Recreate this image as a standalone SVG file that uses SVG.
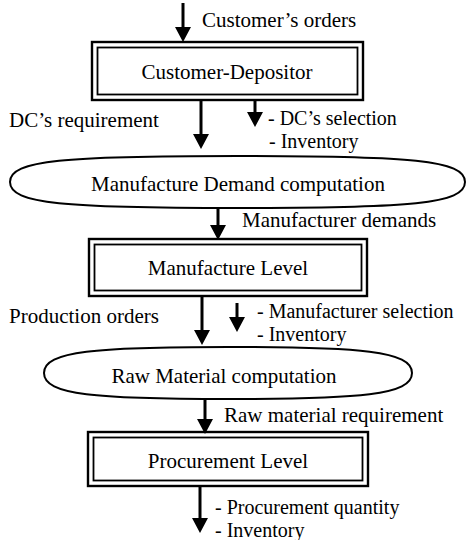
<svg xmlns="http://www.w3.org/2000/svg" width="467" height="540" viewBox="0 0 467 540">
<style>
text{font-family:"Liberation Serif","Times New Roman",serif;font-size:21px;fill:#000}
.c{text-anchor:middle}
.s{font-size:20px}
.o{fill:#fff;stroke:#000;stroke-width:2.4}
.i{fill:none;stroke:#000;stroke-width:1.8}
.e{fill:#fff;stroke:#000;stroke-width:2}
.a{stroke:#000;stroke-width:3;fill:none;marker-end:url(#h)}
</style>
<defs>
<marker id="h" viewBox="0 -8 15 16" refX="0" refY="0" markerWidth="15" markerHeight="16" markerUnits="userSpaceOnUse" orient="auto">
<path d="M0,-8 L15,0 L0,8 z" fill="#000"/>
</marker>
</defs>
<g id="customer-depositor">
<rect class="o" x="92" y="42" width="271" height="58"/>
<rect class="i" x="97.5" y="47.5" width="260" height="47"/>
<text class="c" x="227" y="79">Customer-Depositor</text>
</g>
<g id="manufacture-demand">
<path class="e" d="M237.5,156 C410,156 465,160 465,182 C465,204 410,208 237.5,208 C65,208 10,204 10,182 C10,160 65,156 237.5,156 Z"/>
<text class="c" x="238" y="191">Manufacture Demand computation</text>
</g>
<g id="manufacture-level">
<rect class="o" x="89" y="239" width="278" height="57"/>
<rect class="i" x="94.5" y="244.5" width="267" height="46"/>
<text class="c" x="228" y="275">Manufacture Level</text>
</g>
<g id="raw-material">
<path class="e" d="M228,347 C360,347 412,351 412,373 C412,395 360,399 228,399 C96,399 44,395 44,373 C44,351 96,347 228,347 Z"/>
<text class="c" x="224" y="383">Raw Material computation</text>
</g>
<g id="procurement-level">
<rect class="o" x="88" y="432" width="280" height="54"/>
<rect class="i" x="93.5" y="437.5" width="269" height="43"/>
<text class="c" x="228" y="468">Procurement Level</text>
</g>
<g id="connectors">
<path class="a" d="M183,3 V27"/>
<path class="a" d="M201,101 V134"/>
<path class="a" d="M255,101 V112"/>
<path class="a" d="M218,208 V225"/>
<path class="a" d="M202,297 V330"/>
<path class="a" d="M237,303 V317"/>
<path class="a" d="M205,399 V419"/>
<path class="a" d="M200,487 V518"/>
</g>
<g id="labels">
<text x="202" y="27">Customer’s orders</text>
<text x="9" y="127">DC’s requirement</text>
<text class="s" x="268" y="125">- DC’s selection</text>
<text class="s" x="269" y="148">- Inventory</text>
<text x="242" y="227">Manufacturer demands</text>
<text x="9" y="323">Production orders</text>
<text class="s" x="257" y="318">- Manufacturer selection</text>
<text class="s" x="257" y="341">- Inventory</text>
<text x="224" y="422">Raw material requirement</text>
<text class="s" x="215" y="514">- Procurement quantity</text>
<text class="s" x="215" y="537">- Inventory</text>
</g>
</svg>
